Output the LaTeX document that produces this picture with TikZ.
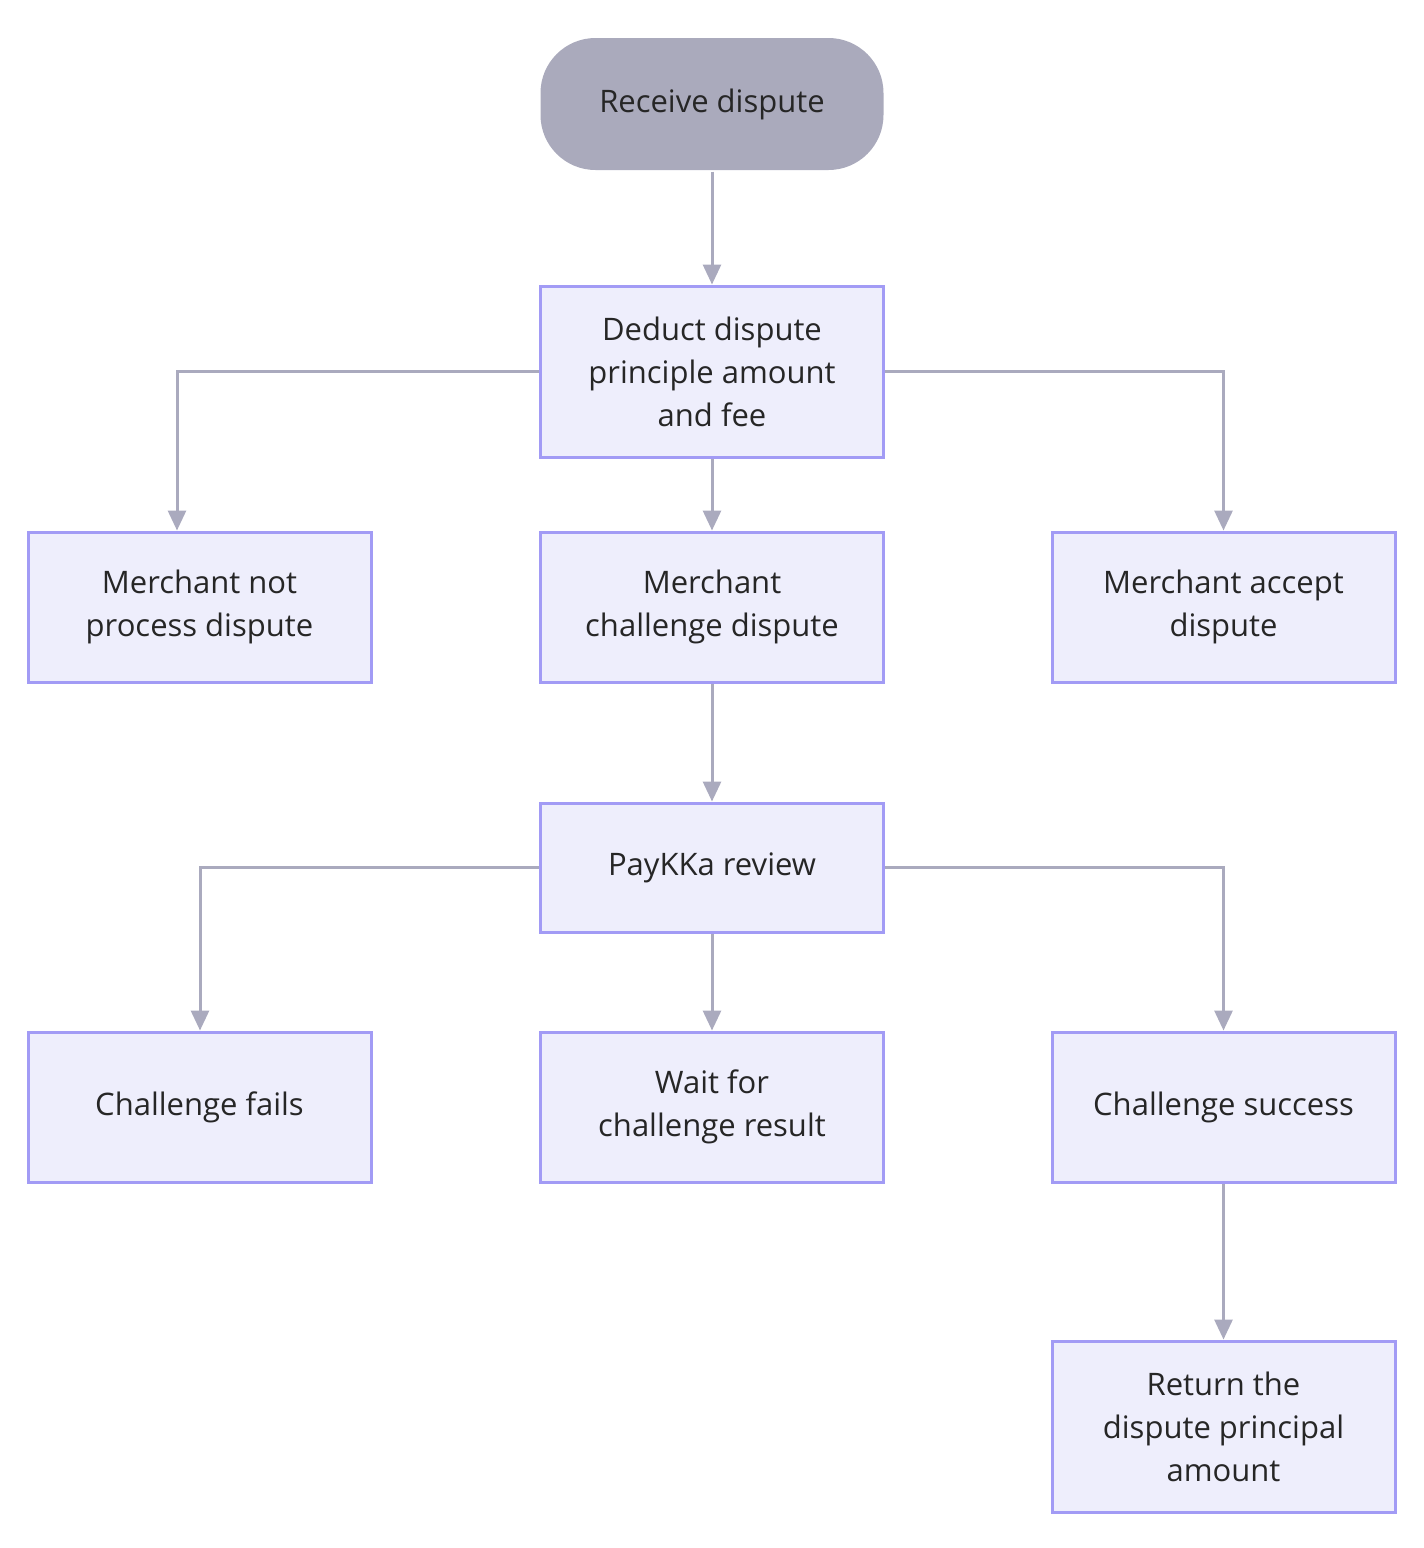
\documentclass[tikz,border=0pt]{standalone}
\usepackage{fontspec}
\setmainfont{Open Sans}
\usetikzlibrary{arrows.meta}
\definecolor{bx}{HTML}{EEEEFC}
\definecolor{bd}{HTML}{A29BF5}
\definecolor{ln}{HTML}{AAAABE}
\definecolor{st}{HTML}{AAAABC}
\begin{document}
\begin{tikzpicture}[x=1pt,y=-1pt,
  box/.style={draw=bd,fill=bx,line width=3pt,minimum width=343pt,align=center,font=\fontsize{31}{43}\selectfont,text=black!85},
  ar/.style={draw=ln,line width=3pt,-{Triangle[length=20pt,width=18pt]}}]
\useasboundingbox (0,0) rectangle (1424,1548);
\node[box,draw=none,fill=st,rounded corners=55pt,minimum height=132pt] (s) at (712,104) {Receive dispute};
\node[box,minimum height=171pt] (d) at (712,371.5) {Deduct dispute\\principle amount\\and fee};
\node[box,minimum height=150pt] (l1) at (199.5,607) {Merchant not\\process dispute};
\node[box,minimum height=150pt] (m1) at (712,607) {Merchant\\challenge dispute};
\node[box,minimum height=150pt] (r1) at (1223.5,607) {Merchant accept\\dispute};
\node[box,minimum height=129pt] (p) at (712,867.5) {PayKKa review};
\node[box,minimum height=150pt] (l2) at (199.5,1107) {Challenge fails};
\node[box,minimum height=150pt] (m2) at (712,1107) {Wait for\\challenge result};
\node[box,minimum height=150pt] (r2) at (1223.5,1107) {Challenge success};
\node[box,minimum height=171pt] (rt) at (1223.5,1426.5) {Return the\\dispute principal\\amount};
\coordinate (a1) at (177,371.5);
\coordinate (a2) at (1223.5,371.5);
\coordinate (b1) at (200,867.5);
\coordinate (b2) at (1223.5,867.5);
\draw[ar] (s) -- (d);
\draw[ar] (d.west) -- (a1) -- (a1 |- l1.north);
\draw[ar] (d) -- (m1);
\draw[ar] (d.east) -- (a2) -- (r1.north);
\draw[ar] (m1) -- (p);
\draw[ar] (p.west) -- (b1) -- (b1 |- l2.north);
\draw[ar] (p) -- (m2);
\draw[ar] (p.east) -- (b2) -- (r2.north);
\draw[ar] (r2) -- (rt);
\end{tikzpicture}
\end{document}
